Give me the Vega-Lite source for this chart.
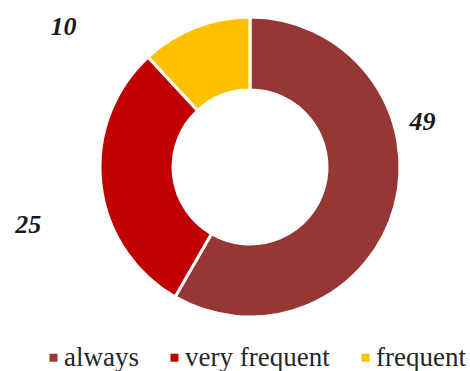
{
  "$schema": "https://vega.github.io/schema/vega-lite/v6.json",
  "autosize": {"type": "none"},
  "width": 300,
  "height": 300,
  "padding": {"left": 100, "top": 17, "right": 70, "bottom": 54},
  "background": "white",
  "data": {"values": [
    {"category": "always", "value": 49, "order": 1},
    {"category": "very frequent", "value": 25, "order": 2},
    {"category": "frequent", "value": 10, "order": 3}
  ]},
  "encoding": {
    "theta": {"field": "value", "type": "quantitative", "stack": true},
    "order": {"field": "order", "type": "quantitative"}
  },
  "layer": [
    {
      "mark": {"type": "arc", "outerRadius": 150, "innerRadius": 77, "stroke": "white", "strokeWidth": 3},
      "encoding": {
        "color": {
          "field": "category", "type": "nominal",
          "scale": {"domain": ["always", "very frequent", "frequent"], "range": ["#953735", "#C00000", "#FFC000"]},
          "legend": {
            "title": null, "orient": "none", "direction": "horizontal",
            "legendX": -60, "legendY": 327
          }
        }
      }
    },
    {
      "mark": {"type": "text", "radius": 190, "font": "Liberation Serif", "fontSize": 26, "fontWeight": "bold", "fontStyle": "italic", "color": "#1a1a1a", "dx": -11, "dy": -94},
      "encoding": {"text": {"condition": {"test": "datum.category === 'always'", "field": "value", "type": "quantitative"}, "value": ""}}
    },
    {
      "mark": {"type": "text", "radius": 190, "font": "Liberation Serif", "fontSize": 26, "fontWeight": "bold", "fontStyle": "italic", "color": "#1a1a1a", "dx": -33, "dy": 37},
      "encoding": {"text": {"condition": {"test": "datum.category === 'very frequent'", "field": "value", "type": "quantitative"}, "value": ""}}
    },
    {
      "mark": {"type": "text", "radius": 190, "font": "Liberation Serif", "fontSize": 26, "fontWeight": "bold", "fontStyle": "italic", "color": "#1a1a1a", "dx": -117, "dy": 37},
      "encoding": {"text": {"condition": {"test": "datum.category === 'frequent'", "field": "value", "type": "quantitative"}, "value": ""}}
    }
  ],
  "config": {
    "view": {"stroke": null},
    "legend": {
      "symbolType": "square", "symbolSize": 64, "symbolStrokeWidth": 0,
      "labelFont": "Liberation Serif", "labelFontSize": 27, "labelColor": "#262626",
      "labelOffset": -3, "columnPadding": 22, "labelLimit": 300, "gridAlign": "each", "padding": 0
    }
  }
}
